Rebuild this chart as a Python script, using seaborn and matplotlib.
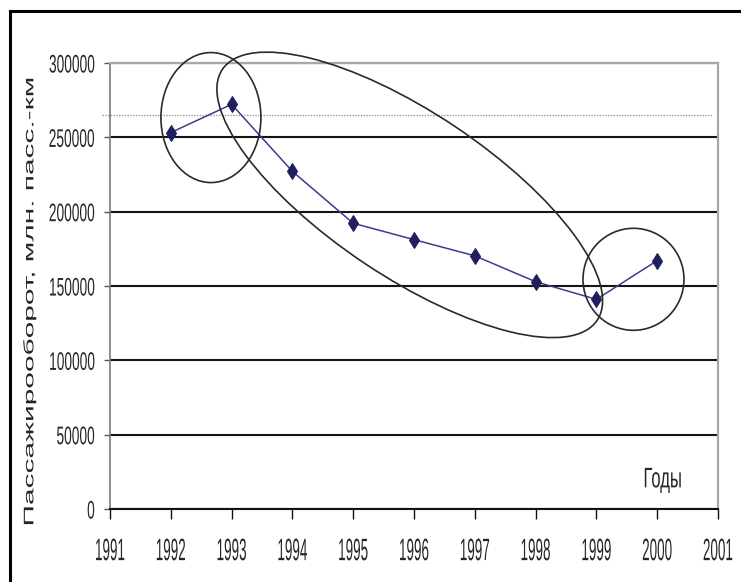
import matplotlib
matplotlib.use("Agg")
import matplotlib.pyplot as plt
import matplotlib.patheffects as pe
from matplotlib.patches import Ellipse, Rectangle
from matplotlib.transforms import Affine2D, ScaledTranslation
import pandas as pd
import seaborn as sns

# Passenger turnover, million passenger-km
years = [1992, 1993, 1994, 1995, 1996, 1997, 1998, 1999, 2000]
turnover = [253200, 272200, 227100, 192200, 181200, 170300, 152900, 141000, 167100]
year_ticks = list(range(1991, 2002))
value_ticks = [0, 50000, 100000, 150000, 200000, 250000, 300000]
reference_level = 265000
y_title = "Пассажирооборот, млн. пасс.-км"
x_title = "Годы"

sns.set_style("white")
plt.rcParams["font.family"] = ["Liberation Sans", "DejaVu Sans"]


class TallText(pe.AbstractPathEffect):
    """Draws a text path stretched vertically about its own centre."""

    def __init__(self, factor):
        super().__init__()
        self.factor = factor

    def draw_path(self, renderer, gc, tpath, affine, rgbFace=None):
        box = tpath.get_extents(affine)
        cx, cy = (box.x0 + box.x1) / 2, (box.y0 + box.y1) / 2
        stretch = Affine2D().translate(-cx, -cy).scale(1.0, self.factor).translate(cx, cy)
        renderer.draw_path(gc, tpath, affine + stretch, rgbFace)


df = pd.DataFrame({"year": years, "turnover": turnover})

W, H = 741, 582
fig = plt.figure(figsize=(W / 100, H / 100), dpi=100)
ax = fig.add_axes([110 / W, 1 - 509 / H, 608 / W, 446 / H])

sns.lineplot(data=df, x="year", y="turnover", ax=ax, color="#3c3c8c", lw=1.1,
             marker="d", markersize=8.5, markerfacecolor="#1f1f5e",
             markeredgecolor="#1f1f5e", zorder=3)

ax.set_xlim(year_ticks[0], year_ticks[-1])
ax.set_ylim(value_ticks[0], value_ticks[-1])
ax.set_xticks(year_ticks)
ax.set_yticks(value_ticks)
ax.set_xticklabels([str(y) for y in year_ticks])
ax.set_yticklabels([str(v) for v in value_ticks])
ax.set_xlabel("")
ax.set_ylabel(y_title, fontsize=10, va="center", ha="center")
ax.yaxis.set_label_coords(-0.133, 0.466)

ax.grid(axis="y", color="#151515", lw=1.5)
ax.grid(axis="x", visible=False)

for side in ("top", "right"):
    ax.spines[side].set_color("#a8a8a8")
    ax.spines[side].set_linewidth(1.6)
ax.spines["left"].set_color("#7a7a7a")
ax.spines["left"].set_linewidth(1.2)
ax.spines["bottom"].set_color("#111111")
ax.spines["bottom"].set_linewidth(1.5)

ax.tick_params(axis="y", direction="out", length=4, width=1, color="#555555",
               pad=7, labelsize=9.9, left=True)
ax.tick_params(axis="x", direction="out", length=7, width=1, color="#111111",
               pad=19, labelsize=9.7, bottom=True)

for lbl in ax.get_yticklabels():
    lbl.set_path_effects([TallText(1.85)])
for lbl in ax.get_xticklabels():
    lbl.set_path_effects([TallText(2.3)])
ax.yaxis.label.set_path_effects([TallText(2.15)])

# dotted reference level
ax.axhline(reference_level, xmin=-0.013, xmax=0.99, color="#9a9a9a", lw=1.0,
           ls=(0, (1, 1)), clip_on=False, zorder=2)

ax.text(0.909, 0.065, x_title, transform=ax.transAxes, ha="center", va="center",
        fontsize=12, path_effects=[TallText(1.7)])

# highlighted periods: centre (year, value), size in px, rotation
px = Affine2D().scale(1 / 100) + fig.dpi_scale_trans
for (cx, cy), w, h, ang in [((1992.66, 263300), 100, 130, 0),
                            ((1995.93, 211300), 451, 164, -33.8),
                            ((1999.61, 154500), 101, 102, 0)]:
    e = Ellipse((0, 0), w, h, angle=ang, fill=False, ec="#2a2a2a", lw=1.2,
                transform=px + ScaledTranslation(cx, cy, ax.transData),
                clip_on=False, zorder=4)
    ax.add_artist(e)

# outer frame
fig.add_artist(Rectangle((9.5 / W, -0.2), 1.5, (1 - 10.5 / H) + 0.2, fill=False,
                         ec="black", lw=2.2, transform=fig.transFigure))

fig.savefig("out.png", dpi=100)
